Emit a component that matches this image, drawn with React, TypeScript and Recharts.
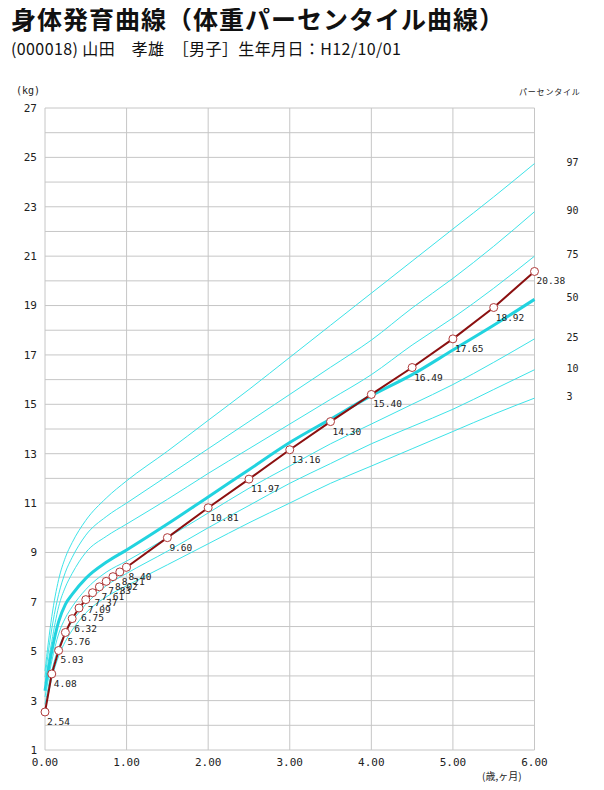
import { LineChart, Line, XAxis, YAxis, CartesianGrid } from 'recharts';

// 子供の実測値 (年齢, 体重kg)
const childAges = [
  0, 0.083, 0.167, 0.25, 0.333, 0.417, 0.5, 0.583, 0.667, 0.75, 0.833, 0.917, 1,
  1.5, 2, 2.5, 3, 3.5, 4, 4.5, 5, 5.5, 6,
];
const childWeights = [
  2.54, 4.08, 5.03, 5.76, 6.32, 6.75, 7.09, 7.37, 7.61, 7.83, 8.02, 8.21, 8.4,
  9.6, 10.81, 11.97, 13.16, 14.3, 15.4, 16.49, 17.65, 18.92, 20.38,
];

// パーセンタイル曲線
const pctAges = [0, 0.083, 0.167, 0.25, 0.333, 0.5, 0.75, 1, 1.5, 2, 2.5, 3, 3.5, 4, 4.5, 5, 5.5, 6];
const p97 = [4.2, 6.4, 7.9, 8.8, 9.4, 10.3, 11.2, 11.9, 13.1, 14.35, 15.6, 16.9, 18.2, 19.5, 20.8, 22.1, 23.4, 24.75];
const p90 = [3.95, 5.9, 7.3, 8.2, 8.8, 9.7, 10.45, 11.0, 12.1, 13.2, 14.3, 15.4, 16.5, 17.6, 18.9, 20.1, 21.4, 22.8];
const p75 = [3.7, 5.4, 6.8, 7.6, 8.15, 9.0, 9.65, 10.15, 11.15, 12.2, 13.2, 14.2, 15.2, 16.2, 17.4, 18.5, 19.7, 21.0];
const p50 = [3.4, 5.0, 6.2, 6.9, 7.3, 7.95, 8.6, 9.1, 10.15, 11.25, 12.35, 13.45, 14.4, 15.35, 16.2, 17.2, 18.2, 19.25];
const p25 = [3.15, 4.6, 5.7, 6.35, 6.8, 7.5, 8.2, 8.65, 9.6, 10.6, 11.6, 12.5, 13.4, 14.2, 15.0, 15.8, 16.7, 17.65];
const p10 = [2.85, 4.2, 5.15, 5.75, 6.2, 6.9, 7.65, 8.15, 9.05, 10.0, 10.9, 11.8, 12.6, 13.4, 14.1, 14.8, 15.6, 16.4];
const p3 = [2.55, 3.9, 4.8, 5.4, 5.85, 6.55, 7.2, 7.65, 8.5, 9.35, 10.2, 11.0, 11.8, 12.5, 13.2, 13.9, 14.6, 15.25];

const pctNames = ['97', '90', '75', '50', '25', '10', '3'];
const pctSeries = [p97, p90, p75, p50, p25, p10, p3];

const xTicks = [0, 1, 2, 3, 4, 5, 6];
const yTicks = Array.from({ length: 27 }, (_, i) => i + 1);

const MONO = '"DejaVu Sans Mono", monospace';
const JP = '"Noto Sans CJK JP", sans-serif';
const CYAN = '#3de3e8';
const CYAN_BOLD = '#22d3df';
const RED = '#8b1010';

const childData = childAges.map((age, i) => ({ age, w: childWeights[i] }));
const pctData = pctSeries.map((s) => pctAges.map((age, i) => ({ age, w: s[i] })));

const renderPointLabel = (props: any) => {
  const { x, y, value, index } = props;
  return (
    <text key={index} x={x + 2} y={y + 13} fontSize={9.5} fontFamily={MONO} fill="#222">
      {Number(value).toFixed(2)}
    </text>
  );
};

const renderDot = (props: any) => {
  const { cx, cy, index } = props;
  return <circle key={index} cx={cx} cy={cy} r={4} fill="#fff" stroke="#b03a3a" strokeWidth={1} />;
};

// 右端のパーセンタイル名 (各曲線の最終点の高さに置く)
const makePctLabel = (name: string) => (props: any) => {
  const { x, y, index } = props;
  if (index !== pctAges.length - 1) return null;
  return (
    <text key={index} x={x + 32} y={y + 2} fontSize={10} fontFamily={MONO} fill="#222">
      {name}
    </text>
  );
};

export default function App() {
  return (
    <div style={{ position: 'relative', width: 604, height: 790, margin: -8, background: '#fff' }}>
      <div
        style={{
          position: 'absolute',
          left: 11,
          top: 3,
          fontFamily: JP,
          fontWeight: 'bold',
          fontSize: 25,
          letterSpacing: 1,
          lineHeight: '30px',
          color: '#111',
          whiteSpace: 'nowrap',
        }}
      >
        身体発育曲線（体重パーセンタイル曲線）
      </div>
      <div
        style={{
          position: 'absolute',
          left: 11,
          top: 36,
          fontFamily: JP,
          fontSize: 16,
          letterSpacing: 0.4,
          lineHeight: '24px',
          color: '#111',
          whiteSpace: 'nowrap',
        }}
      >
        (000018) 山田　孝雄　［男子］生年月日：H12/10/01
      </div>
      <div style={{ position: 'absolute', left: 16, top: 85, fontSize: 10, fontFamily: MONO, color: '#222' }}>(kg)</div>
      <div style={{ position: 'absolute', left: 519, top: 86, fontSize: 8, letterSpacing: 0.8, fontFamily: JP, color: '#222' }}>
        パーセンタイル
      </div>
      <div style={{ position: 'absolute', left: 482, top: 768, fontSize: 10, fontFamily: JP, color: '#222' }}>
        (歳,ヶ月)
      </div>
      <div style={{ position: 'absolute', left: 0, top: 0 }}>
        <LineChart width={604} height={790} margin={{ top: 108, right: 69.5, bottom: 12, left: 5 }}>
          <CartesianGrid stroke="#c6c6c6" strokeWidth={1} />
          <XAxis
            dataKey="age"
            type="number"
            domain={[0, 6]}
            ticks={xTicks}
            tickFormatter={(v: number) => v.toFixed(2)}
            axisLine={false}
            tickLine={false}
            height={28}
            tick={{ fontSize: 11, fontFamily: MONO, fill: '#222' }}
            allowDuplicatedCategory={false}
          />
          <YAxis
            type="number"
            domain={[1, 27]}
            ticks={yTicks}
            interval={0}
            tickFormatter={(v: number) => (v % 2 === 1 ? String(v) : '')}
            axisLine={false}
            tickLine={false}
            width={40}
            tick={{ fontSize: 11, fontFamily: MONO, fill: '#222' }}
          />
          {pctData.map((d, i) => (
            <Line
              key={pctNames[i]}
              data={d}
              dataKey="w"
              type="monotone"
              stroke={pctNames[i] === '50' ? CYAN_BOLD : CYAN}
              strokeWidth={pctNames[i] === '50' ? 3 : 1}
              dot={false}
              label={makePctLabel(pctNames[i])}
              isAnimationActive={false}
            />
          ))}
          <Line
            data={childData}
            dataKey="w"
            type="linear"
            stroke={RED}
            strokeWidth={2}
            dot={renderDot}
            label={renderPointLabel}
            isAnimationActive={false}
          />
        </LineChart>
      </div>
    </div>
  );
}
